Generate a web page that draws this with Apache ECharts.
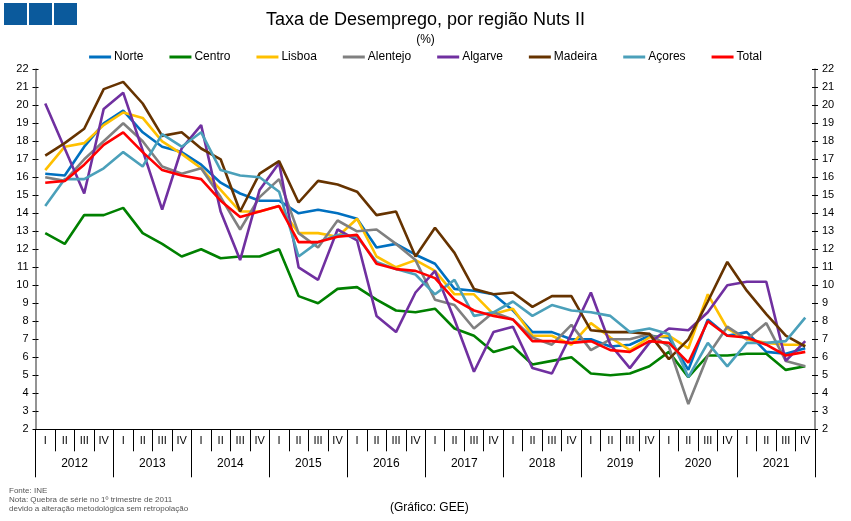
<!DOCTYPE html>
<html>
<head>
<meta charset="utf-8">
<script src="https://cdn.jsdelivr.net/npm/echarts@6/dist/echarts.min.js"></script>
<style>
  html, body { margin:0; padding:0; background:#fff; }
  #grafico { width:851px; height:521px; }
</style>
</head>
<body>
<div id="grafico"></div>
<script>
// anos e trimestres do eixo
var anos = ['2012','2013','2014','2015','2016','2017','2018','2019','2020','2021'];
var trimestres = ['I','II','III','IV'];

// taxa de desemprego por regiao (%), 2012T1 .. 2021T4
var norte    = [16.2,16.1,17.7,19.0, 19.7,18.5,17.7,17.4, 16.7,15.7,15.1,14.7, 14.7,14.0,14.2,14.0, 13.7,12.1,12.3,11.7, 11.2,9.8,9.7,9.5, 8.6,7.4,7.4,7.0, 7.0,6.6,6.7,7.2, 7.1,5.3,8.1,7.2, 7.4,6.3,6.2,6.5];
var centro   = [12.9,12.3,13.9,13.9, 14.3,12.9,12.3,11.6, 12.0,11.5,11.6,11.6, 12.0,9.4,9.0,9.8, 9.9,9.2,8.6,8.5, 8.7,7.6,7.2,6.3, 6.6,5.6,5.8,6.0, 5.1,5.0,5.1,5.5, 6.3,4.9,6.1,6.1, 6.2,6.2,5.3,5.5];
var lisboa   = [16.4,17.7,17.9,18.9, 19.6,19.3,18.0,17.3, 16.5,15.3,14.1,14.1, 14.4,12.9,12.9,12.7, 13.7,11.6,11.0,11.4, 10.8,9.5,9.5,8.4, 8.7,7.2,7.2,6.7, 7.9,7.1,6.4,7.1, 7.2,6.5,9.5,7.6, 7.0,6.8,6.7,6.7];
var alentejo = [16.0,15.8,17.0,18.0, 19.0,18.0,16.6,16.2, 16.5,14.9,13.1,14.9, 15.9,12.9,12.1,13.6, 13.0,13.1,12.3,11.4, 9.2,8.9,7.6,8.5, 8.1,7.1,6.7,7.8, 6.4,7.0,7.0,7.3, 6.6,3.4,6.1,7.7, 7.0,7.9,5.8,5.5];
var algarve  = [20.1,17.6,15.1,19.8, 20.7,17.5,14.2,17.6, 18.9,14.1,11.4,15.3, 16.8,11.0,10.3,13.1, 12.5,8.3,7.4,9.6, 10.8,8.1,5.2,7.4, 7.7,5.4,5.1,7.3, 9.6,6.7,5.4,6.8, 7.6,7.5,8.5,10.0, 10.2,10.2,5.8,6.9];
var madeira  = [17.2,17.9,18.7,20.9, 21.3,20.1,18.3,18.5, 17.6,17.0,14.1,16.2, 16.9,14.6,15.8,15.6, 15.2,13.9,14.1,11.6, 13.2,11.8,9.8,9.5, 9.6,8.8,9.4,9.4, 7.5,7.4,7.4,7.3, 5.9,7.0,9.1,11.3, 9.7,8.4,7.2,6.6];
var acores   = [14.4,15.9,15.9,16.5, 17.4,16.6,18.4,17.7, 18.5,16.4,16.1,16.0, 15.2,11.6,12.4,12.8, 12.7,11.3,10.9,10.6, 9.5,10.3,8.3,8.5, 9.1,8.3,8.9,8.6, 8.5,8.3,7.4,7.6, 7.3,4.9,6.8,5.5, 6.8,6.8,6.9,8.2];
var total    = [15.7,15.8,16.7,17.8, 18.5,17.4,16.4,16.1, 15.9,14.7,13.8,14.1, 14.4,12.4,12.4,12.7, 12.8,11.2,10.9,10.8, 10.4,9.2,8.6,8.3, 8.1,6.9,6.9,6.8, 6.9,6.4,6.3,6.9, 6.8,5.7,8.0,7.2, 7.1,6.7,6.1,6.3];

var nomes = ['Norte','Centro','Lisboa','Alentejo','Algarve','Madeira','Açores','Total'];
var valores = [norte, centro, lisboa, alentejo, algarve, madeira, acores, total];
var cores = ['#0070C0','#008000','#FFC000','#808080','#7030A0','#663300','#4BA0BA','#FF0000'];

var fonte = 'Liberation Sans, Arial, sans-serif';

// categorias "2012 I", "2012 II", ...
var categorias = [];
for (var a = 0; a < anos.length; a++) {
  for (var t = 0; t < trimestres.length; t++) {
    categorias.push(anos[a] + ' ' + trimestres[t]);
  }
}

var series = [];
for (var i = 0; i < nomes.length; i++) {
  series.push({
    name: nomes[i],
    type: 'line',
    data: valores[i],
    symbol: 'none',
    xAxisIndex: 0,
    yAxisIndex: 0,
    lineStyle: { width: 2.6, color: cores[i] },
    itemStyle: { color: cores[i] },
    z: i == 7 ? 5 : 2,
    animation: false
  });
}

function eixoY(pos, dentro, comLabel) {
  return {
    type: 'value', position: pos, min: 2, max: 22, interval: 1,
    axisLine: { show: true, lineStyle: { color: '#8c8c8c', width: 1.5 } },
    axisTick: { show: true, inside: dentro, length: 3, lineStyle: { color: '#000' } },
    axisLabel: { show: comLabel, fontFamily: fonte, fontSize: 11, color: '#000', margin: 7 },
    splitLine: { show: false }
  };
}

var chart = echarts.init(document.getElementById('grafico'), null, { renderer: 'canvas' });
chart.setOption({
  backgroundColor: '#fff',
  animation: false,
  title: {
    text: 'Taxa de Desemprego, por região Nuts II',
    subtext: '(%)',
    left: 'center', top: 6,
    itemGap: 5,
    textStyle: { fontFamily: fonte, fontSize: 18, fontWeight: 'normal', color: '#000' },
    subtextStyle: { fontFamily: fonte, fontSize: 12, color: '#000' }
  },
  legend: {
    data: nomes,
    top: 46, left: 'center',
    icon: 'rect', itemWidth: 22, itemHeight: 3, itemGap: 26,
    textStyle: { fontFamily: fonte, fontSize: 12, color: '#000', padding: [0, 0, 0, -2] }
  },
  grid: { left: 35.5, right: 36, top: 69.3, bottom: 91.7, containLabel: false },
  xAxis: [
    {
      type: 'category', data: categorias, boundaryGap: true, position: 'bottom',
      axisLine: { show: true, lineStyle: { color: '#000' } },
      axisTick: { show: true, interval: 0, length: 22, lineStyle: { color: '#000' } },
      axisLabel: {
        interval: 0, margin: 6, fontFamily: fonte, fontSize: 11, color: '#000',
        formatter: function (v) { return v.split(' ')[1]; }
      }
    },
    {
      type: 'category', data: anos, boundaryGap: true, position: 'bottom',
      axisLine: { show: true, lineStyle: { color: '#000' } },
      axisTick: { show: true, interval: 0, length: 48, lineStyle: { color: '#000' } },
      axisLabel: { interval: 0, margin: 28, fontFamily: fonte, fontSize: 12, color: '#000' }
    }
  ],
  yAxis: [
    eixoY('left', false, true),
    eixoY('right', false, true),
    eixoY('left', true, false),
    eixoY('right', true, false)
  ],
  graphic: [
    // logotipo
    { type: 'rect', left: 4, top: 3, shape: { width: 23, height: 22 }, style: { fill: '#0B5A9C' } },
    { type: 'rect', left: 29, top: 3, shape: { width: 23, height: 22 }, style: { fill: '#0B5A9C' } },
    { type: 'rect', left: 54, top: 3, shape: { width: 23, height: 22 }, style: { fill: '#0B5A9C' } },
    // notas de rodape
    { type: 'text', left: 9, top: 487, style: { text: 'Fonte: INE', font: '8px ' + fonte, fill: '#555' } },
    { type: 'text', left: 9, top: 496, style: { text: 'Nota: Quebra de série no 1º trimestre de 2011', font: '8px ' + fonte, fill: '#555' } },
    { type: 'text', left: 9, top: 505, style: { text: 'devido a alteração metodológica sem retropolação', font: '8px ' + fonte, fill: '#555' } },
    { type: 'text', left: 390, top: 502, style: { text: '(Gráfico: GEE)', font: '12px ' + fonte, fill: '#000' } }
  ],
  series: series
});
</script>
</body>
</html>
